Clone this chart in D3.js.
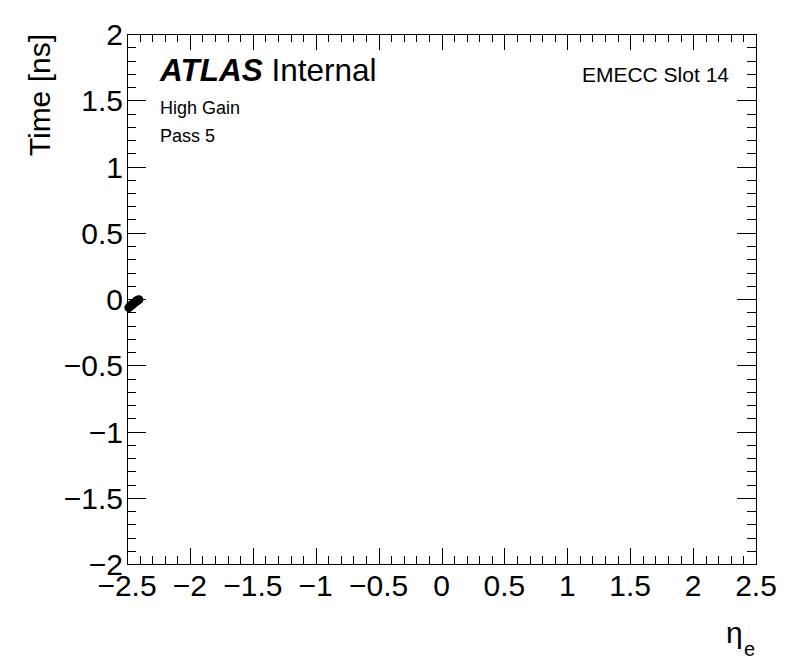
<!DOCTYPE html>
<html><head><meta charset="utf-8">
<script src="https://cdn.jsdelivr.net/npm/d3@7"></script>
<style>body{margin:0;background:#fff}svg{font-family:"Liberation Sans",Arial,sans-serif}</style>
</head><body>
<svg id="c" width="796" height="672"></svg>
<script>
const etaValues = [-2.485, -2.475, -2.465, -2.455, -2.445, -2.435, -2.425, -2.415, -2.405];
const timeValues = [-0.065, -0.055, -0.045, -0.04, -0.03, -0.025, -0.015, -0.01, -0.005];
const xTickLabels = [-2.5,-2,-1.5,-1,-0.5,0,0.5,1,1.5,2,2.5];
const yTickLabels = [-2,-1.5,-1,-0.5,0,0.5,1,1.5,2];

const svg = d3.select("#c");
const L=127,R=756,T=34,B=564;
const x = d3.scaleLinear().domain([-2.5,2.5]).range([L,R]);
const y = d3.scaleLinear().domain([-2,2]).range([B,T]);
const fmt = v => (v<0?"\u2212":"") + Math.abs(v);

const minorX = d3.range(-25,26).map(i=>i/10);
const minorY = d3.range(-20,21).map(i=>i/10);
const isMajor = v => Math.abs(Math.round(v*2)-v*2)<1e-6;
const g = svg.append("g").attr("stroke","#000").attr("stroke-width",1);
minorX.forEach(v=>{
  const len = isMajor(v)?16:8; const px=Math.round(x(v))+0.5;
  g.append("line").attr("x1",px).attr("x2",px).attr("y1",B).attr("y2",B-len);
  g.append("line").attr("x1",px).attr("x2",px).attr("y1",T).attr("y2",T+len);
});
minorY.forEach(v=>{
  const len = isMajor(v)?19:9; const py=Math.round(y(v))+0.5;
  g.append("line").attr("x1",L).attr("x2",L+len).attr("y1",py).attr("y2",py);
  g.append("line").attr("x1",R).attr("x2",R-len).attr("y1",py).attr("y2",py);
});
svg.append("rect").attr("x",L+0.5).attr("y",T+0.5).attr("width",R-L).attr("height",B-T)
  .attr("fill","none").attr("stroke","#000");

svg.selectAll(".xl").data(xTickLabels).enter().append("text")
  .attr("x",d=>x(d)).attr("y",596).attr("text-anchor","middle")
  .attr("font-size",30).text(fmt);
svg.selectAll(".yl").data(yTickLabels).enter().append("text")
  .attr("x",123).attr("y",d=>y(d)+11).attr("text-anchor","end")
  .attr("font-size",30).text(fmt);

svg.append("text").attr("transform","translate(50,"+(T)+") rotate(-90)")
  .attr("text-anchor","end").attr("font-size",30).text("Time [ns]");
svg.append("text").attr("x",726).attr("y",643).attr("font-size",30).text("\u03b7");
svg.append("text").attr("x",744).attr("y",656).attr("font-size",20).text("e");

const at = svg.append("text").attr("x",160).attr("y",81).attr("font-size",31.5);
at.append("tspan").attr("font-weight","bold").attr("font-style","italic").text("ATLAS");
at.append("tspan").text(" Internal");
svg.append("text").attr("x",160).attr("y",114).attr("font-size",18).text("High Gain");
svg.append("text").attr("x",160).attr("y",142).attr("font-size",18).text("Pass 5");
svg.append("text").attr("x",729).attr("y",82).attr("text-anchor","end").attr("font-size",21).text("EMECC Slot 14");

svg.selectAll(".pt").data(etaValues.map((e,i)=>[e,timeValues[i]])).enter().append("circle")
  .attr("cx",d=>x(d[0])).attr("cy",d=>y(d[1])).attr("r",4.5).attr("fill","#000");
</script>
</body></html>
